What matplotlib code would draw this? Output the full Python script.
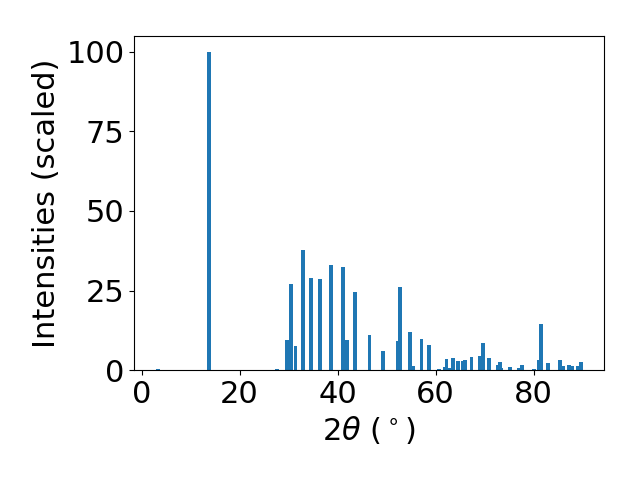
import matplotlib
matplotlib.use("Agg")
import matplotlib.pyplot as plt

# peak positions (2theta, degrees) and scaled intensities
two_theta = [3.3, 13.7, 27.6, 29.7, 30.5, 31.4, 32.9, 34.6, 36.4, 38.6,
             41.1, 41.9, 43.6, 46.5, 49.3, 52.4, 52.8, 54.8, 55.4, 57.1,
             58.7, 60.6, 61.8, 62.2, 62.8, 63.6, 64.6, 65.5, 65.9, 67.3,
             69.0, 69.6, 70.8, 72.7, 73.1, 73.4, 75.1, 76.9, 77.6, 80.0,
             81.0, 81.4, 82.9, 85.3, 85.9, 87.1, 87.8, 89.0, 89.6]
intensities = [0.3, 100.0, 0.3, 9.5, 27.1, 7.6, 37.8, 29.0, 28.7, 33.1,
               32.5, 9.5, 24.6, 11.1, 6.1, 9.2, 26.2, 12.1, 1.4, 9.9,
               8.0, 0.3, 1.1, 3.6, 0.8, 3.9, 3.0, 3.0, 3.2, 4.2,
               4.5, 8.6, 3.9, 1.6, 2.4, 0.8, 1.1, 0.8, 1.7, 0.3,
               3.3, 14.6, 2.1, 3.2, 1.3, 1.7, 1.4, 1.3, 2.6]

fig, ax = plt.subplots(figsize=(6.4, 4.8), dpi=100)
ax.bar(two_theta, intensities, width=0.8)

ax.set_xlabel(r'$2\theta$ ($^\circ$)', fontsize=22)
ax.set_ylabel('Intensities (scaled)', fontsize=22)
ax.tick_params(labelsize=22)
ax.set_yticks([0, 25, 50, 75, 100])

fig.subplots_adjust(left=0.21, right=0.944, bottom=0.229, top=0.925)
plt.savefig('out.png')
plt.close()
